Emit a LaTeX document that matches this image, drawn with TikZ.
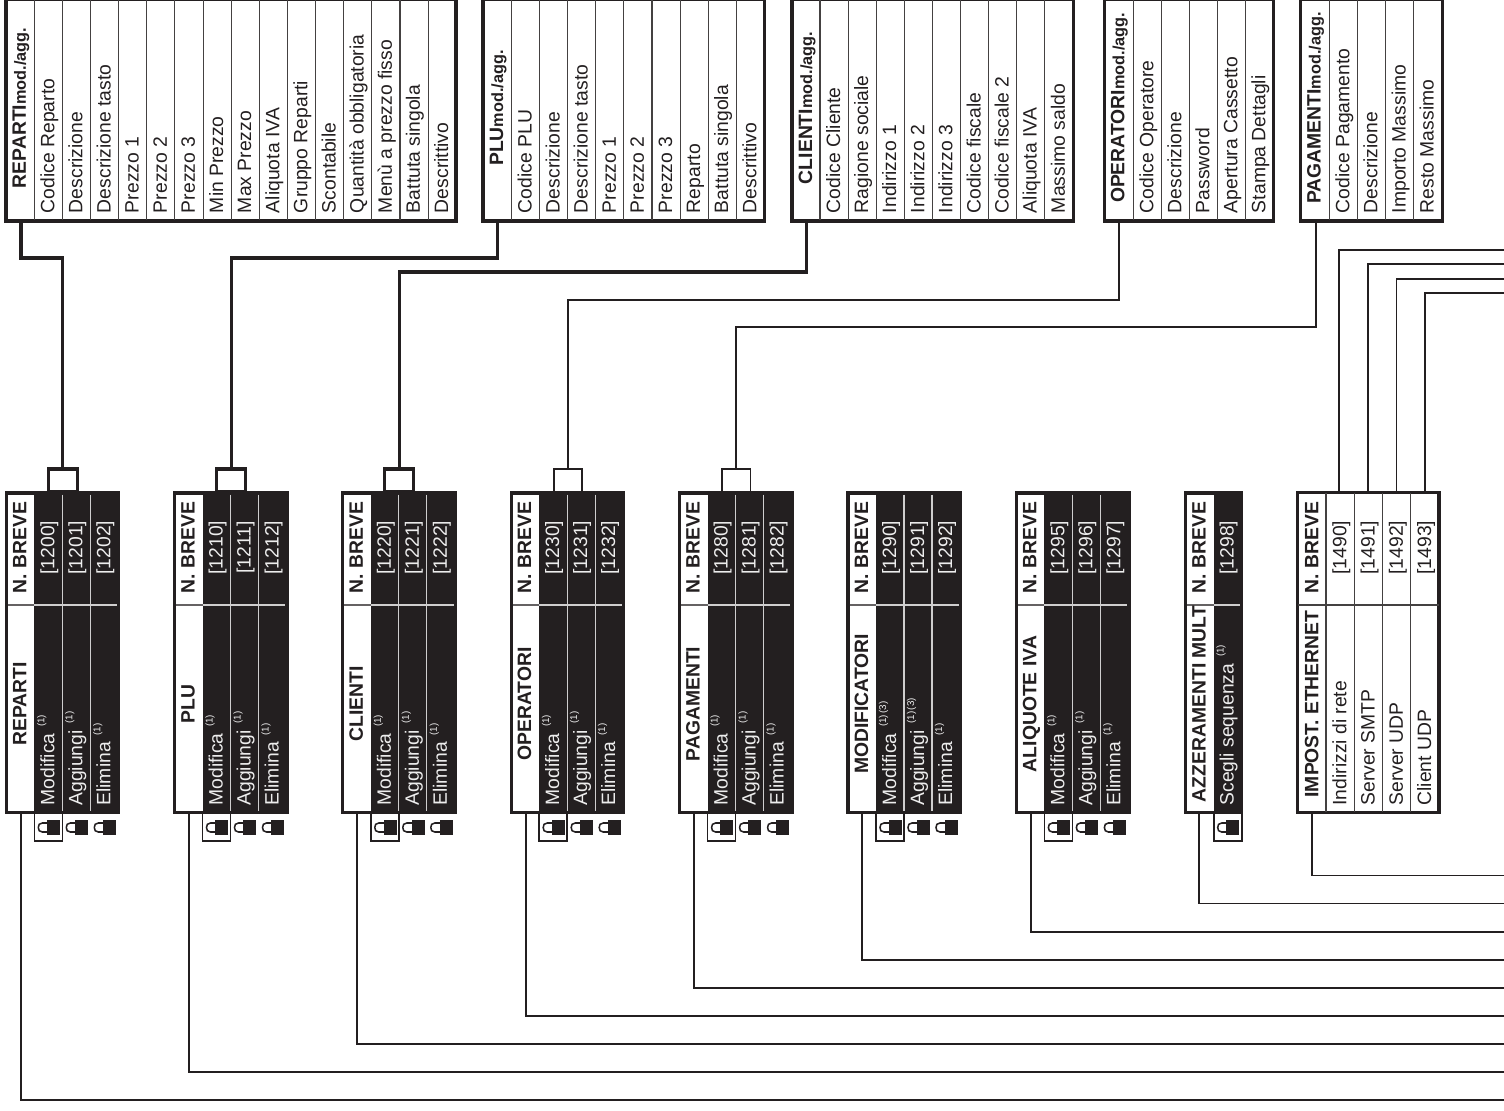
\documentclass[tikz,border=0pt]{standalone}
\usepackage{fontspec}
\setmainfont{Liberation Sans}
\definecolor{ink}{HTML}{231F20}
\definecolor{pale}{HTML}{EDEDED}
\tikzset{
  lab/.style={rotate=90,anchor=base west,inner sep=0pt,outer sep=0pt,font=\fontsize{14.5}{16}\selectfont,text=ink},
  labw/.style={lab,text=pale},
  code/.style={rotate=90,anchor=base,inner sep=0pt,outer sep=0pt,font=\fontsize{14.5}{16}\selectfont,text=ink},
  codew/.style={code,text=pale},
  head/.style={rotate=90,anchor=base,inner sep=0pt,outer sep=0pt,font=\fontsize{14.5}{16}\selectfont\bfseries,text=ink},
  frame/.style={draw=ink,line width=2.4pt,inner sep=0pt,outer sep=0pt},
  darkframe/.style={frame,fill=ink},
  divd/.style={draw=ink!85,line width=0.8pt},
  divl/.style={draw=pale!85!ink,line width=0.8pt},
  cthick/.style={draw=ink,line width=2.3pt},
  cmid/.style={draw=ink,line width=1.5pt},
  cthin/.style={draw=ink,line width=1.3pt},
  brthick/.style={draw=ink,line width=2.3pt,inner sep=0pt,outer sep=0pt},
  brthin/.style={draw=ink,line width=1.4pt,inner sep=0pt,outer sep=0pt},
  lockbox/.style={draw=ink,line width=1.2pt,inner sep=0pt,outer sep=0pt},
}
\newcommand{\su}[1]{\hspace{5pt}\raisebox{7.5pt}{\fontsize{7.4}{8}\selectfont #1}}
% upper table: id, left, first divider, pitch, right, title, rows
\newcommand{\uptable}[7]{%
  \node[frame,minimum width={(#5-#2)*.75pt},minimum height={222*.75pt}] (#1) at ({(#2+#5)/2},110) {};
  \node[head] (#1-h) at (#2+20,108) {#6{\fontsize{12.2}{13}\selectfont mod./agg.}};
  \foreach \t [count=\i] in {#7} {
    \pgfmathsetmacro\xx{#3+(\i-1)*#4}
    \pgfmathsetmacro\xb{\xx+20}
    \draw[divd] (\xx,-2) -- (\xx,220);
    \node[lab] (#1-\i) at (\xb,213) {\t};
  }
}
\newcommand{\lockat}[1]{%
  \fill[ink] (#1+12.7,820) rectangle (#1+25.7,834.5);
  \draw[ink,line width=1.15pt] (#1+13,823) -- (#1+8,823) .. controls (#1+5,823) and (#1+4,825) .. (#1+4,827.5) .. controls (#1+4,830) and (#1+5,832) .. (#1+8,832) -- (#1+13,832);
}
% menu box: id, left, right, title, rows lab/code
\newcommand{\menubox}[5]{%
  \node[darkframe,minimum width={(#3-#2)*.75pt},minimum height={319.5*.75pt}] (#1) at ({(#2+#3)/2},652.7) {};
  \fill[white] (#2+1.6,494.5) rectangle (#2+28,810.8);
  \draw[draw=ink!70,line width=0.8pt] (#2+1.6,605) -- (#2+28,605);
  \draw[divl] (#2+28,605) -- (#3-2,605);
  \node[head] (#1-n) at (#2+20,547.5) {N. BREVE};
  \node[head] (#1-h) at (#2+20,704) {#4};
  \node[lockbox,minimum width={28*.75pt},minimum height={28*.75pt}] (#1-k) at (#2+42,827) {};
  \foreach \lab/\cod [count=\i] in {#5} {
    \pgfmathsetmacro\xx{#2+28+(\i-1)*28}
    \pgfmathsetmacro\xb{\xx+20}
    \ifnum\i>1 \draw[divl] (\xx,494.5) -- (\xx,810.8); \fi
    \node[codew] (#1-c\i) at (\xb,547.5) {\cod};
    \node[labw] (#1-r\i) at (\xb,805.5) {\lab};
    \lockat{\xx}
  }
}
\begin{document}
\begin{tikzpicture}[x=0.75pt,y=-0.75pt]
\path[use as bounding box] (0,0) rectangle (1504,1111);
\clip (0,0) rectangle (1504,1111);
\fill[white] (0,0) rectangle (1504,1111);
% free ends at the right edge
\coordinate (eA) at (1506,250);
\coordinate (eB) at (1506,264.3);
\coordinate (eC) at (1506,278.7);
\coordinate (eD) at (1506,292.7);
\coordinate (e0) at (1506,875.5);
\coordinate (e1) at (1506,903.5);
\coordinate (e2) at (1506,931.7);
\coordinate (e3) at (1506,960);
\coordinate (e4) at (1506,988);
\coordinate (e5) at (1506,1016);
\coordinate (e6) at (1506,1044);
\coordinate (e7) at (1506,1072);
\coordinate (e8) at (1506,1100);
% upper tables
\uptable{tREP}{6}{34.3}{28.13}{456}{REPARTI}{Codice Reparto,Descrizione,Descrizione tasto,Prezzo 1,Prezzo 2,Prezzo 3,Min Prezzo,Max Prezzo,Aliquota IVA,Gruppo Reparti,Scontabile,Quantità obbligatoria,Menù a prezzo fisso,Battuta singola,Descrittivo}
\uptable{tPLU}{483}{511.5}{28.1}{764.5}{PLU}{Codice PLU,Descrizione,Descrizione tasto,Prezzo 1,Prezzo 2,Prezzo 3,Reparto,Battuta singola,Descrittivo}
\uptable{tCLI}{792}{820}{28.1}{1073.5}{CLIENTI}{Codice Cliente,Ragione sociale,Indirizzo 1,Indirizzo 2,Indirizzo 3,Codice fiscale,Codice fiscale 2,Aliquota IVA,Massimo saldo}
\uptable{tOPE}{1104.3}{1133.3}{28}{1273.3}{OPERATORI}{Codice Operatore,Descrizione,Password,Apertura Cassetto,Stampa Dettagli}
\uptable{tPAG}{1300.7}{1329.3}{28.1}{1442.7}{PAGAMENTI}{Codice Pagamento,Descrizione,Importo Massimo,Resto Massimo}
% brackets
\node[brthick,minimum width={29*.75pt},minimum height={23*.75pt}] (bREP) at (62.8,480.5) {};
\node[brthick,minimum width={29*.75pt},minimum height={23*.75pt}] (bPLU) at (231.2,480.5) {};
\node[brthick,minimum width={29*.75pt},minimum height={23*.75pt}] (bCLI) at (399.2,480.5) {};
\node[brthin,minimum width={28.5*.75pt},minimum height={23*.75pt}] (bOPE) at (568,480.5) {};
\node[brthin,minimum width={28.5*.75pt},minimum height={23*.75pt}] (bPAG) at (736.3,480.5) {};
% menu boxes
\menubox{mREP}{6.3}{118.7}{REPARTI}{Modifica\su{(1)}/[1200],Aggiungi\su{(1)}/[1201],Elimina\su{(1)}/[1202]}
\menubox{mPLU}{174.5}{287}{PLU}{Modifica\su{(1)}/[1210],Aggiungi\su{(1)}/[1211],Elimina\su{(1)}/[1212]}
\menubox{mCLI}{342.8}{455.5}{CLIENTI}{Modifica\su{(1)}/[1220],Aggiungi\su{(1)}/[1221],Elimina\su{(1)}/[1222]}
\menubox{mOPE}{511.2}{623.8}{OPERATORI}{Modifica\su{(1)}/[1230],Aggiungi\su{(1)}/[1231],Elimina\su{(1)}/[1232]}
\menubox{mPAG}{679.6}{792.2}{PAGAMENTI}{Modifica\su{(1)}/[1280],Aggiungi\su{(1)}/[1281],Elimina\su{(1)}/[1282]}
\menubox{mMOD}{848}{960.5}{MODIFICATORI}{Modifica\su{(1)\hspace{1pt}(3)}/[1290],Aggiungi\su{(1)\hspace{1pt}(3)}/[1291],Elimina\su{(1)}/[1292]}
\menubox{mALI}{1016.4}{1129}{ALIQUOTE IVA}{Modifica\su{(1)}/[1295],Aggiungi\su{(1)}/[1296],Elimina\su{(1)}/[1297]}
\menubox{mAZZ}{1185.7}{1241.5}{AZZERAMENTI MULT}{Scegli sequenza\su{(1)}/[1298]}
% ethernet box
\node[frame,minimum width={141.3*.75pt},minimum height={320*.75pt}] (mETH) at (1368.4,652.7) {};
\draw[divd] (mETH.west |- 0,605) -- (mETH.east |- 0,605);
\node[head] (mETH-n) at (1318.3,547.5) {N. BREVE};
\node[head] (mETH-h) at (1318.3,704) {IMPOST. ETHERNET};
\foreach \lab/\cod [count=\i] in {Indirizzi di rete/[1490],Server SMTP/[1491],Server UDP/[1492],Client UDP/[1493]}{
  \pgfmathsetmacro\xx{1326+(\i-1)*28.3}
  \pgfmathsetmacro\xb{\xx+20.3}
  \draw[divd] (\xx,493) -- (\xx,812);
  \node[code] (mETH-c\i) at (\xb,547.5) {\cod};
  \node[lab] (mETH-r\i) at (\xb,805.5) {\lab};
}
% connectors table to bracket
\draw[cthick] (tREP.south west) ++(15,0) |- (0,258 -| bREP.north) -- (bREP.north);
\draw[cthick] (tPLU.south west) ++(14.5,0) |- (0,258 -| bPLU.north) -- (bPLU.north);
\draw[cthick] (tCLI.south west) ++(14.5,0) |- (0,272 -| bCLI.north) -- (bCLI.north);
\draw[cmid] (tOPE.south west) ++(15,0) |- (0,300 -| bOPE.north) -- (bOPE.north);
\draw[cmid] (tPAG.south west) ++(15,0) |- (0,327 -| bPAG.north) -- (bPAG.north);
% connectors ethernet to right edge
\draw[cthin] (mETH.north west) ++(41.3,0) |- (eA);
\draw[cthin] (mETH.north west) ++(70.3,0) |- (eB);
\draw[cthin] (mETH.north west) ++(98.8,0) |- (eC);
\draw[cthin] (mETH.north west) ++(127.3,0) |- (eD);
% lower connectors
\draw[cthin] (mETH.south west) ++(14.3,0) |- (e0);
\draw[cthin] (mAZZ.south west) ++(13.6,0) |- (e1);
\draw[cthin] (mALI.south west) ++(14.6,0) |- (e2);
\draw[cthin] (mMOD.south west) ++(14.3,0) |- (e3);
\draw[cthin] (mPAG.south west) ++(14.4,0) |- (e4);
\draw[cthin] (mOPE.south west) ++(14.5,0) |- (e5);
\draw[cthin] (mCLI.south west) ++(14.5,0) |- (e6);
\draw[cthin] (mPLU.south west) ++(14.3,0) |- (e7);
\draw[cthin] (mREP.south west) ++(14.5,0) |- (e8);
\end{tikzpicture}
\end{document}
